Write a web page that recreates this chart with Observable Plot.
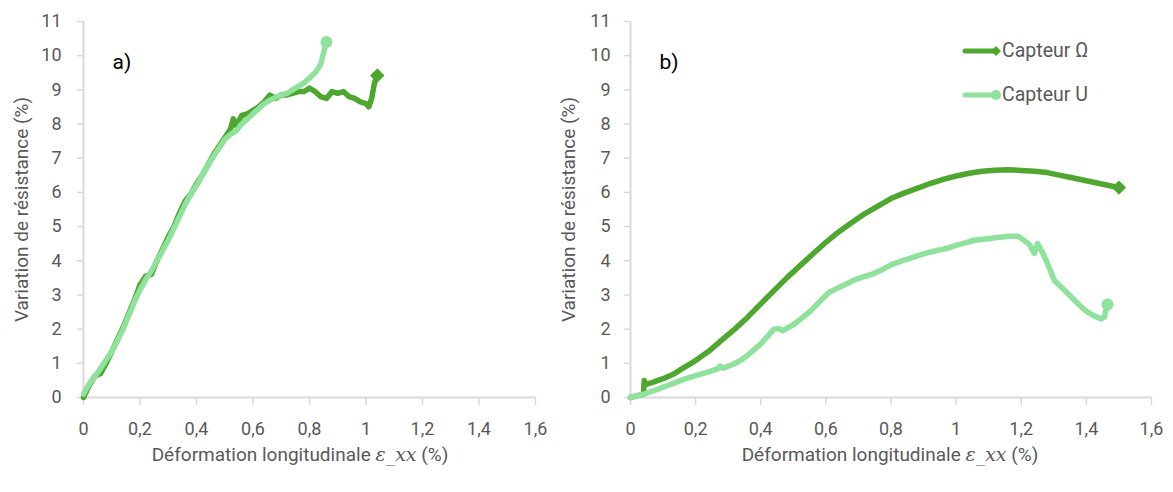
<!DOCTYPE html>
<html>
<head>
<meta charset="utf-8">
<script src="https://cdn.jsdelivr.net/npm/d3@7"></script>
<script src="https://cdn.jsdelivr.net/npm/@observablehq/plot@0.6"></script>
<style>
  html, body { margin: 0; padding: 0; background: #fff; }
  #wrap { position: relative; width: 1173px; height: 492px; overflow: hidden; font-family: Roboto, "Noto Sans", sans-serif; }
  .panel { position: absolute; top: 0; }
  .xtitle { position: absolute; top: 443px; font-size: 19px; color: #595959; white-space: nowrap; transform: translateX(-50%); }
  .xtitle .m { font-family: "DejaVu Serif", "Liberation Serif", serif; font-style: italic; }
  .legend { position: absolute; left: 962px; font-size: 19.5px; color: #595959; display: flex; align-items: center; white-space: nowrap; }
  .legend svg { display: block; }
</style>
</head>
<body>
<div id="wrap"></div>
<script>
// ---- data ----
const xTicks = [0, 0.2, 0.4, 0.6, 0.8, 1, 1.2, 1.4, 1.6];
const yTicks = [0, 1, 2, 3, 4, 5, 6, 7, 8, 9, 10, 11];
const seriesNames = ["Capteur Ω", "Capteur U"];
const panelLabels = ["a)", "b)"];
const yTitle = "Variation de résistance (%)";

// Panel a) — Capteur Ω
const aOmegaX = [0, 0.02, 0.04, 0.06, 0.08, 0.1, 0.12, 0.14, 0.16, 0.18, 0.2, 0.22, 0.24, 0.26, 0.28, 0.3, 0.32, 0.34, 0.36, 0.38, 0.4, 0.42, 0.44, 0.46, 0.48, 0.5, 0.52, 0.53, 0.54, 0.56, 0.58, 0.6, 0.62, 0.64, 0.66, 0.68, 0.7, 0.72, 0.74, 0.76, 0.78, 0.8, 0.82, 0.84, 0.86, 0.88, 0.9, 0.92, 0.94, 0.96, 0.98, 1.0, 1.01, 1.02, 1.03, 1.04];
const aOmegaY = [0, 0.35, 0.62, 0.7, 1.0, 1.35, 1.7, 2.05, 2.45, 2.85, 3.3, 3.55, 3.6, 4.0, 4.35, 4.7, 5.0, 5.4, 5.75, 5.95, 6.25, 6.5, 6.8, 7.1, 7.35, 7.6, 7.85, 8.15, 7.95, 8.25, 8.3, 8.4, 8.5, 8.65, 8.85, 8.75, 8.85, 8.85, 8.9, 8.95, 8.95, 9.05, 8.95, 8.8, 8.75, 8.95, 8.9, 8.95, 8.8, 8.75, 8.65, 8.6, 8.5, 8.75, 9.2, 9.42];
// Panel a) — Capteur U
const aUX = [0, 0.02, 0.04, 0.06, 0.08, 0.1, 0.12, 0.14, 0.16, 0.18, 0.2, 0.22, 0.24, 0.26, 0.28, 0.3, 0.32, 0.34, 0.36, 0.38, 0.4, 0.42, 0.44, 0.46, 0.48, 0.5, 0.52, 0.54, 0.56, 0.58, 0.6, 0.62, 0.64, 0.66, 0.68, 0.7, 0.72, 0.74, 0.76, 0.78, 0.8, 0.82, 0.84, 0.85, 0.86];
const aUY = [0.1, 0.4, 0.6, 0.85, 1.1, 1.35, 1.65, 2.0, 2.4, 2.8, 3.15, 3.45, 3.7, 4.0, 4.3, 4.6, 4.95, 5.3, 5.65, 5.95, 6.2, 6.5, 6.8, 7.05, 7.3, 7.55, 7.7, 7.8, 8.0, 8.15, 8.3, 8.45, 8.6, 8.7, 8.78, 8.85, 8.9, 9.0, 9.1, 9.2, 9.35, 9.5, 9.75, 10.1, 10.4];

// Panel b) — Capteur Ω
const bOmegaX = [0, 0.02, 0.04, 0.042, 0.046, 0.07, 0.1, 0.133, 0.16, 0.2, 0.24, 0.28, 0.32, 0.36, 0.4, 0.44, 0.48, 0.52, 0.56, 0.6, 0.64, 0.68, 0.72, 0.76, 0.8, 0.84, 0.88, 0.92, 0.96, 1.0, 1.04, 1.08, 1.12, 1.16, 1.2, 1.24, 1.28, 1.32, 1.36, 1.4, 1.44, 1.48, 1.5];
const bOmegaY = [0, 0.05, 0.1, 0.5, 0.38, 0.45, 0.55, 0.69, 0.85, 1.08, 1.35, 1.68, 2.0, 2.35, 2.74, 3.12, 3.5, 3.85, 4.2, 4.54, 4.85, 5.12, 5.38, 5.6, 5.82, 5.98, 6.12, 6.26, 6.38, 6.48, 6.56, 6.62, 6.65, 6.66, 6.64, 6.62, 6.58, 6.5, 6.42, 6.34, 6.26, 6.18, 6.14];
// Panel b) — Capteur U
const bUX = [0, 0.04, 0.072, 0.1, 0.133, 0.17, 0.2, 0.24, 0.267, 0.275, 0.285, 0.318, 0.34, 0.359, 0.38, 0.4, 0.42, 0.441, 0.455, 0.467, 0.485, 0.503, 0.53, 0.554, 0.58, 0.61, 0.64, 0.667, 0.69, 0.718, 0.74, 0.769, 0.8, 0.831, 0.86, 0.9, 0.94, 0.974, 1.0, 1.03, 1.056, 1.09, 1.128, 1.16, 1.19, 1.205, 1.225, 1.24, 1.25, 1.262, 1.277, 1.29, 1.302, 1.328, 1.35, 1.364, 1.39, 1.405, 1.425, 1.446, 1.455, 1.46, 1.465];
const bUY = [0, 0.1, 0.2, 0.3, 0.42, 0.55, 0.64, 0.75, 0.84, 0.92, 0.86, 0.98, 1.1, 1.23, 1.4, 1.57, 1.78, 2.0, 2.02, 1.95, 2.05, 2.15, 2.35, 2.54, 2.8, 3.08, 3.22, 3.34, 3.45, 3.54, 3.6, 3.72, 3.88, 3.99, 4.08, 4.2, 4.3, 4.37, 4.45, 4.53, 4.6, 4.64, 4.68, 4.72, 4.72, 4.62, 4.47, 4.22, 4.5, 4.3, 4.0, 3.7, 3.42, 3.18, 2.98, 2.84, 2.6, 2.49, 2.38, 2.3, 2.35, 2.55, 2.72];

const colorOmega = "#4ea72e";
const colorU = "#8ee29c";
const axisColor = "#d9d9d9";
const textColor = "#595959";

const toRows = (xs, ys) => xs.map((x, i) => ({x, y: ys[i]}));
const fmt = d => String(d).replace(".", ",");

function panel({width, marginLeft, marginRight, omega, u, label, yTickPadding}) {
  return Plot.plot({
    width, height: 492,
    marginLeft, marginRight, marginTop: 21, marginBottom: 95,
    style: {fontFamily: "Roboto, 'Noto Sans', sans-serif", fontSize: "18px", background: "transparent", overflow: "visible"},
    x: {domain: [0, 1.6]},
    y: {domain: [0, 11]},
    marks: [
      Plot.axisX({ticks: xTicks, tickFormat: fmt, tickSize: 8, tickPadding: 17, stroke: axisColor, strokeWidth: 1.5, fill: textColor, label: null}),
      Plot.axisY({ticks: yTicks, tickSize: 6, tickPadding: yTickPadding, stroke: axisColor, strokeWidth: 1.5, fill: textColor, label: null}),
      Plot.ruleY([0], {stroke: axisColor, strokeWidth: 2}),
      Plot.ruleX([0], {stroke: axisColor, strokeWidth: 2}),
      Plot.text([yTitle], {frameAnchor: "left", dx: -62, rotate: -90, textAnchor: "middle", fill: textColor, fontSize: 19}),
      Plot.text([label], {frameAnchor: "top-left", dx: 29, dy: 33, fill: "#000", fontSize: 21}),
      Plot.line(omega, {x: "x", y: "y", stroke: colorOmega, strokeWidth: 5.5, strokeLinejoin: "round", strokeLinecap: "round"}),
      Plot.line(u, {x: "x", y: "y", stroke: colorU, strokeWidth: 5.5, strokeLinejoin: "round", strokeLinecap: "round"}),
      Plot.dot(omega.slice(-1), {x: "x", y: "y", symbol: "diamond2", r: 5.5, fill: colorOmega, stroke: colorOmega}),
      Plot.dot(u.slice(-1), {x: "x", y: "y", symbol: "circle", r: 6, fill: colorU})
    ]
  });
}

const wrap = document.getElementById("wrap");

const left = panel({width: 565, marginLeft: 83, marginRight: 30, omega: toRows(aOmegaX, aOmegaY), u: toRows(aUX, aUY), label: panelLabels[0], yTickPadding: 16});
left.classList.add("panel"); left.style.left = "0px";
wrap.appendChild(left);

const right = panel({width: 608, marginLeft: 65, marginRight: 22, omega: toRows(bOmegaX, bOmegaY), u: toRows(bUX, bUY), label: panelLabels[1], yTickPadding: 14});
right.classList.add("panel"); right.style.left = "565px";
wrap.appendChild(right);

// x titles
function xTitle(cx) {
  const d = document.createElement("div");
  d.className = "xtitle";
  d.style.left = cx + "px";
  d.innerHTML = 'Déformation longitudinale <span class="m">ε_xx</span> (%)';
  wrap.appendChild(d);
}
xTitle(300);
xTitle(890);

// legend
function legendItem(name, color, symbol, top) {
  const d = document.createElement("div");
  d.className = "legend";
  d.style.top = top + "px";
  const s = d3.create("svg").attr("width", 40).attr("height", 14);
  s.append("line").attr("x1", 3).attr("x2", 34).attr("y1", 7).attr("y2", 7).attr("stroke", color).attr("stroke-width", 5).attr("stroke-linecap", "round");
  if (symbol === "diamond") s.append("path").attr("d", "M34,2 L39,7 L34,12 L29,7 Z").attr("fill", color);
  else s.append("circle").attr("cx", 34).attr("cy", 7).attr("r", 5).attr("fill", color);
  d.appendChild(s.node());
  const t = document.createElement("span");
  t.textContent = name;
  d.appendChild(t);
  wrap.appendChild(d);
}
legendItem(seriesNames[0], colorOmega, "diamond", 39);
legendItem(seriesNames[1], colorU, "circle", 83);
</script>
</body>
</html>
